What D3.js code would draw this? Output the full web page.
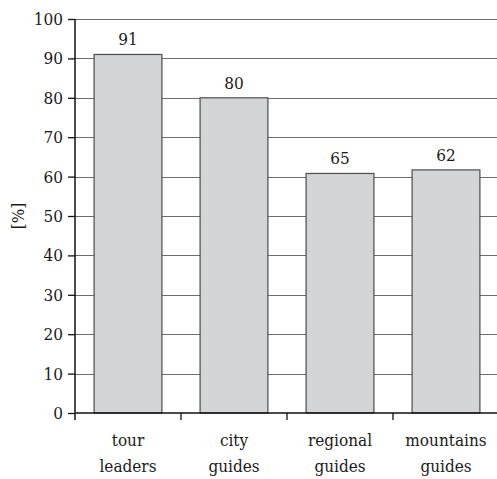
<!DOCTYPE html>
<html>
<head>
<meta charset="utf-8">
<script src="https://cdn.jsdelivr.net/npm/d3@7"></script>
<style>
  body { margin: 0; background: #fff; }
  text { font-stretch: condensed; }
</style>
</head>
<body>
<div id="chart"></div>
<script>
// data
var categories = [["tour", "leaders"], ["city", "guides"], ["regional", "guides"], ["mountains", "guides"]];
var barValues = [91, 80, 60.8, 61.7];      // bar heights as drawn
var valueLabels = ["91", "80", "65", "62"]; // numbers printed above the bars
var yTicks = [0, 10, 20, 30, 40, 50, 60, 70, 80, 90, 100];

var font = "'DejaVu Serif Condensed', 'DejaVu Serif', serif";

var width = 497,
    height = 479,
    margin = {top: 19, right: -2, bottom: 66, left: 75};

var svg = d3.select("#chart")
  .append("svg")
    .attr("width", width)
    .attr("height", height)
    .style("font-family", font);

var x = d3.scaleBand()
  .domain(d3.range(categories.length))
  .range([margin.left, width - margin.right])
  .paddingInner(0.36)
  .paddingOuter(0.18);

var y = d3.scaleLinear()
  .domain([0, 100])
  .range([height - margin.bottom, margin.top]);

// gridlines
svg.append("g")
  .selectAll("line")
  .data(yTicks.slice(1))
  .enter()
  .append("line")
    .attr("x1", margin.left)
    .attr("x2", width)
    .attr("y1", function(d) { return Math.round(y(d)) + 0.5; })
    .attr("y2", function(d) { return Math.round(y(d)) + 0.5; })
    .attr("stroke", "#6b6b6b")
    .attr("stroke-width", 1.2);

// bars
svg.append("g")
  .selectAll("rect")
  .data(barValues)
  .enter()
  .append("rect")
    .attr("x", function(d, i) { return x(i); })
    .attr("y", function(d) { return y(d); })
    .attr("width", x.bandwidth())
    .attr("height", function(d) { return y(0) - y(d); })
    .attr("fill", "#d3d4d6")
    .attr("stroke", "#4d4d4d")
    .attr("stroke-width", 1.2);

// value labels
svg.append("g")
  .selectAll("text")
  .data(barValues)
  .enter()
  .append("text")
    .attr("x", function(d, i) { return x(i) + x.bandwidth() / 2; })
    .attr("y", function(d) { return y(d) - 9; })
    .attr("text-anchor", "middle")
    .style("font-size", "17px")
    .style("font-family", font)
    .attr("fill", "#1a1a1a")
    .text(function(d, i) { return valueLabels[i]; });

// y axis
var yAxis = d3.axisLeft(y)
  .tickValues(yTicks)
  .tickSize(7)
  .tickPadding(5);

var gy = svg.append("g")
  .attr("transform", "translate(" + margin.left + ",0)")
  .call(yAxis);
gy.attr("font-family", null);
gy.select(".domain").remove();
gy.selectAll(".tick line").attr("stroke", "#111").attr("stroke-width", 1.3);
gy.selectAll(".tick text")
  .style("font-size", "17px")
  .style("font-family", font)
  .attr("fill", "#1a1a1a");

// axis lines
svg.append("line")
  .attr("x1", margin.left).attr("x2", margin.left)
  .attr("y1", margin.top).attr("y2", y(0) + 7)
  .attr("stroke", "#111").attr("stroke-width", 1.5);
svg.append("line")
  .attr("x1", margin.left).attr("x2", width)
  .attr("y1", y(0)).attr("y2", y(0))
  .attr("stroke", "#111").attr("stroke-width", 1.5);

// x ticks between categories
svg.append("g")
  .selectAll("line")
  .data(d3.range(1, categories.length))
  .enter()
  .append("line")
    .attr("x1", function(i) { return x(i) - x.step() * x.paddingInner() / 2; })
    .attr("x2", function(i) { return x(i) - x.step() * x.paddingInner() / 2; })
    .attr("y1", y(0))
    .attr("y2", y(0) + 7)
    .attr("stroke", "#111")
    .attr("stroke-width", 1.3);

// category labels
var cat = svg.append("g")
  .selectAll("text")
  .data(categories)
  .enter()
  .append("text")
    .attr("text-anchor", "middle")
    .attr("fill", "#1a1a1a")
    .style("font-family", font)
    .style("font-size", "17px");
cat.each(function(d, i) {
  var t = d3.select(this);
  d.forEach(function(line, k) {
    t.append("tspan")
      .attr("x", x(i) + x.bandwidth() / 2)
      .attr("y", 446 + k * 26)
      .text(line);
  });
});

// y axis title
svg.append("text")
  .attr("transform", "translate(24," + y(50) + ") rotate(-90)")
  .attr("text-anchor", "middle")
  .attr("fill", "#1a1a1a")
  .style("font-family", font)
  .style("font-size", "17px")
  .text("[%]");
</script>
</body>
</html>
